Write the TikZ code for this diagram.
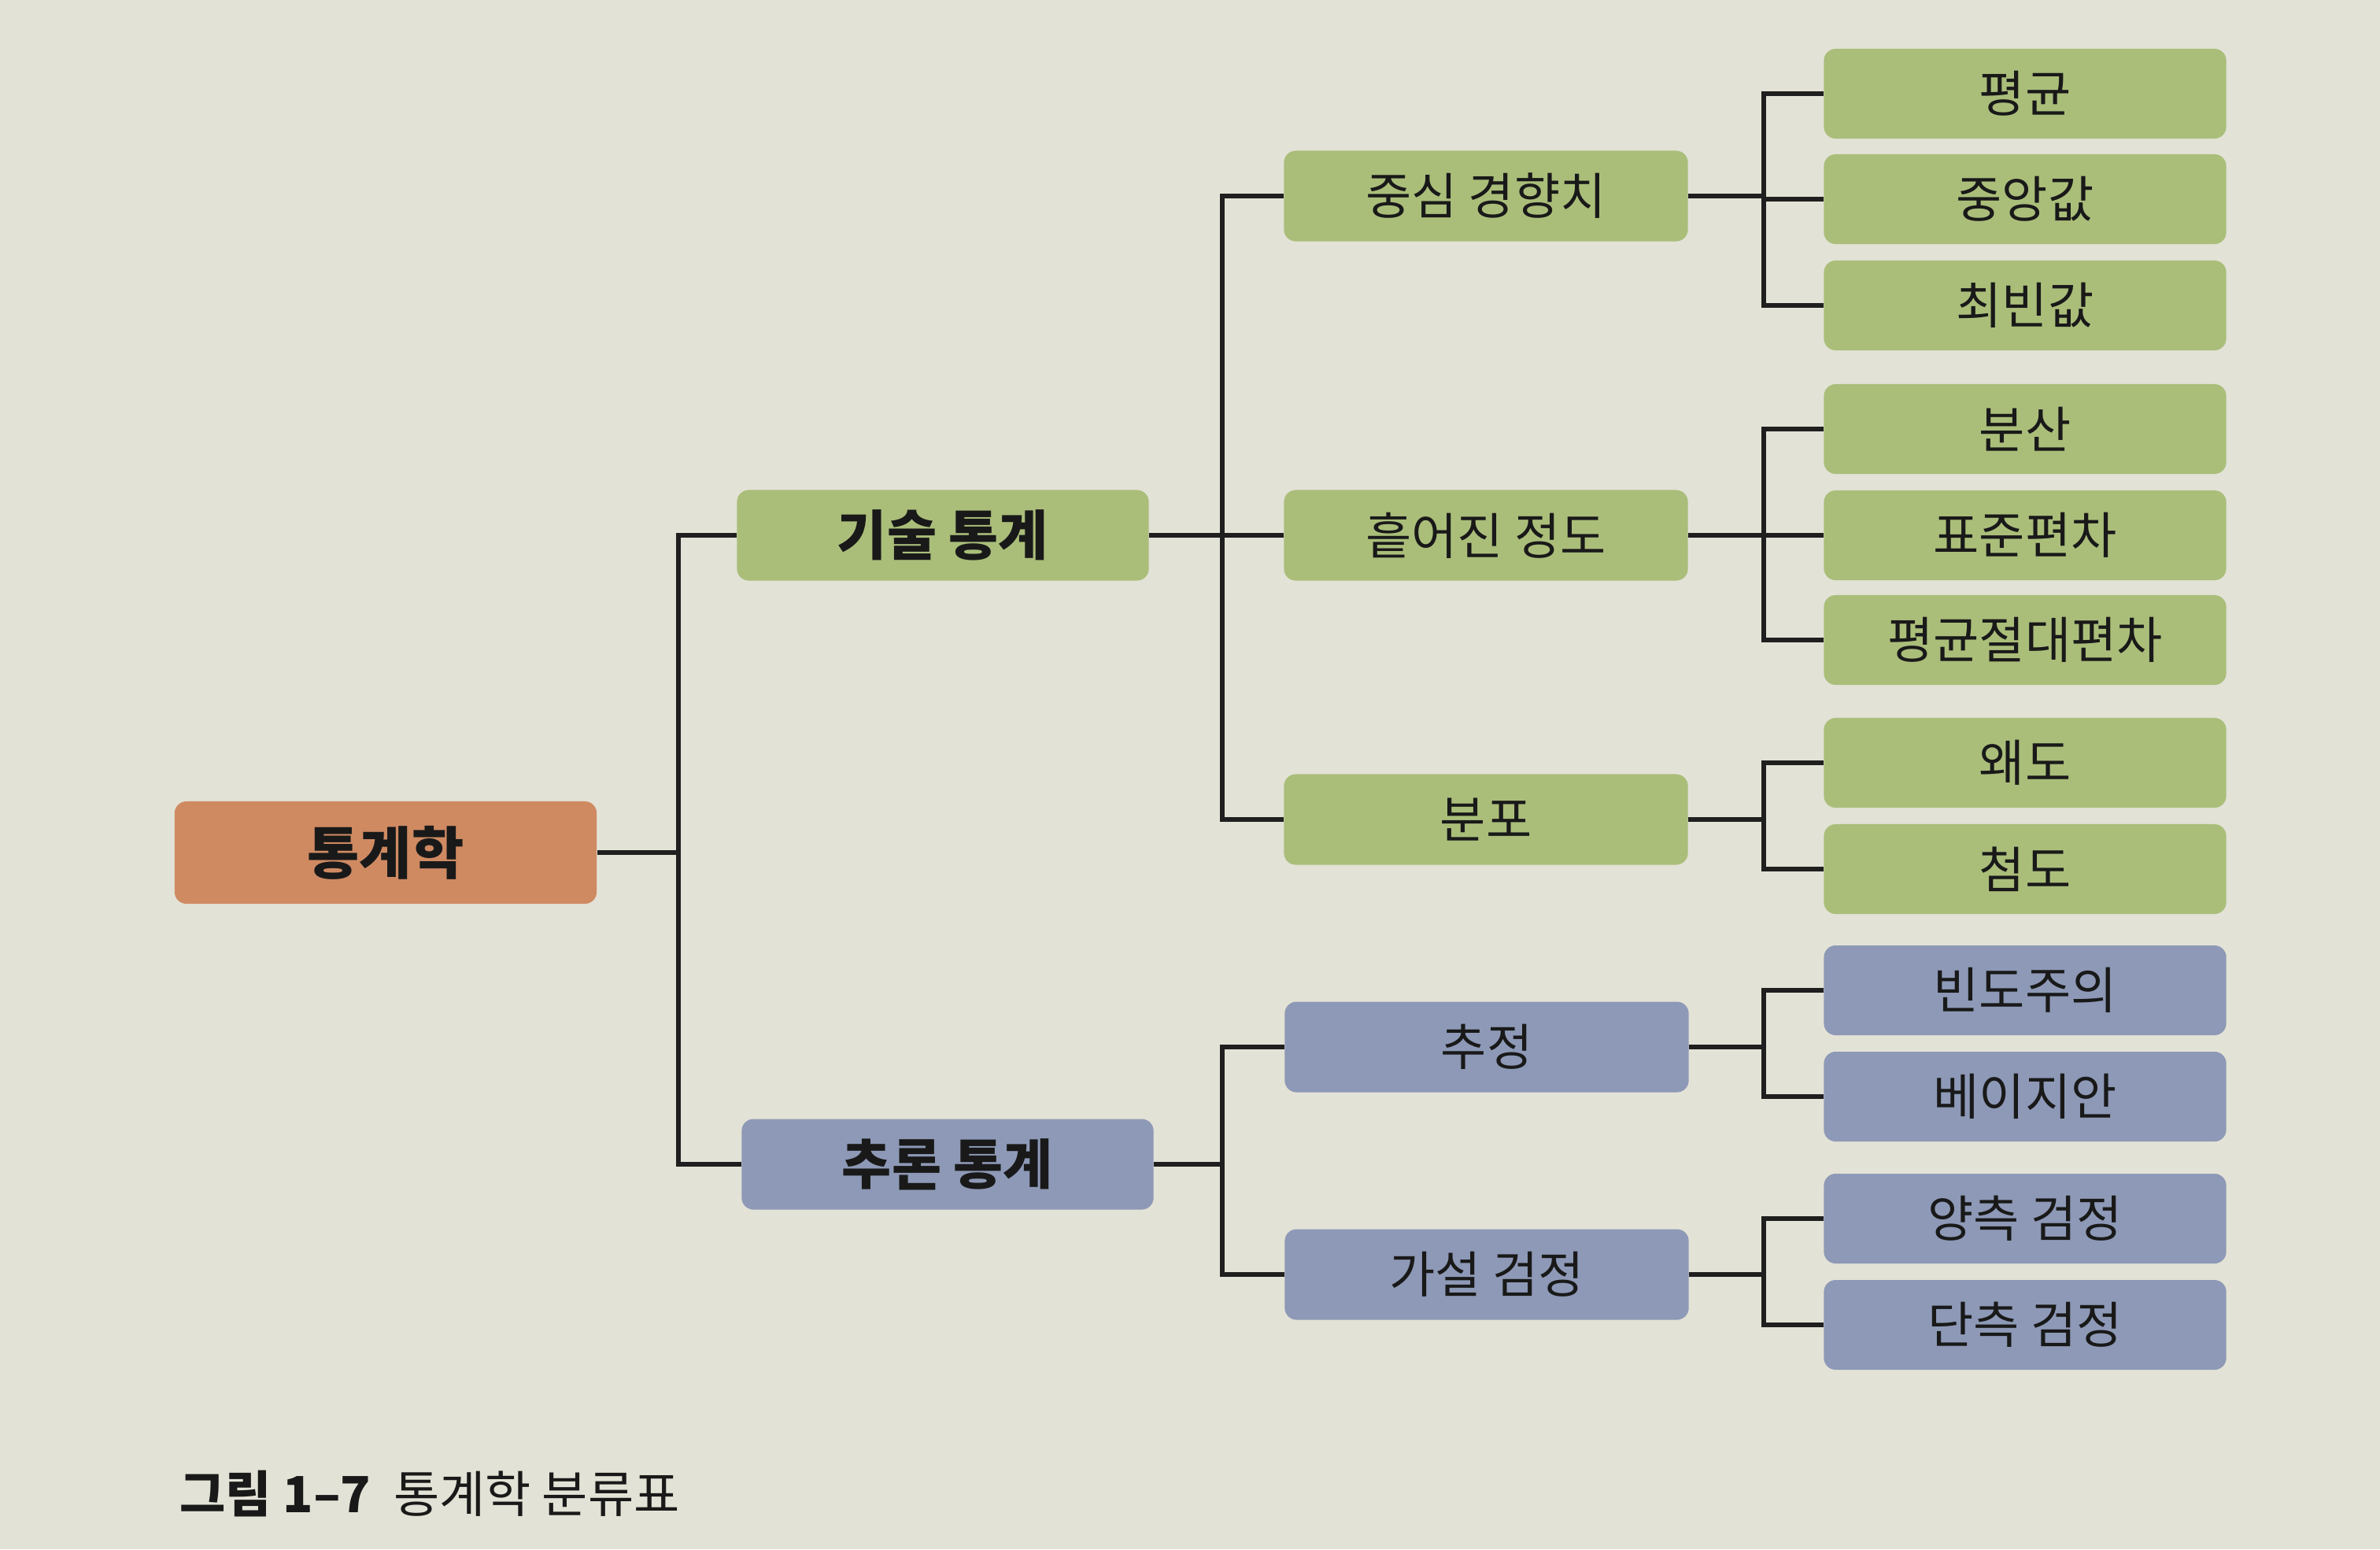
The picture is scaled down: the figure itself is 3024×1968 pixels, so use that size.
\documentclass[tikz,border=0pt]{standalone}
\usepackage{fontspec}
\setmainfont{Noto Sans CJK KR}
\begin{document}
\begin{tikzpicture}[x=0.01cm,y=-0.01cm,
  box/.style={rounded corners=0.15cm, align=center, inner sep=0pt, text=black!90},
  leaf/.style={box, fill=leafgreen, minimum width=5.11cm, minimum height=1.14cm, font=\fontsize{18}{21}\selectfont},
  midg/.style={box, fill=leafgreen, minimum width=5.13cm, minimum height=1.15cm, font=\fontsize{18}{21}\selectfont},
  midb/.style={box, fill=slateblue, minimum width=5.13cm, minimum height=1.15cm, font=\fontsize{18}{21}\selectfont},
  leafb/.style={leaf, fill=slateblue},
  topg/.style={box, fill=leafgreen, minimum width=5.23cm, minimum height=1.15cm, font=\fontsize{19.5}{22}\selectfont\bfseries},
  topb/.style={topg, fill=slateblue},
  rootbox/.style={box, fill=rootorange, minimum width=5.36cm, minimum height=1.30cm, font=\fontsize{20.5}{23}\selectfont\bfseries},
  conn/.style={line width=1.5pt, draw=black!88, line join=miter}
]
\definecolor{paper}{HTML}{E3E2D6}
\definecolor{leafgreen}{HTML}{AABE7A}
\definecolor{slateblue}{HTML}{8D99B6}
\definecolor{rootorange}{HTML}{CF8A62}
\fill[paper] (0,0) rectangle (3024,1968);
\useasboundingbox (0,0) rectangle (3024,1968);

\node[rootbox] (root) at (490,1083) {통계학};
\node[topg] (gisul) at (1198,680) {기술 통계};
\node[topb] (churon) at (1204,1479) {추론 통계};

\node[midg] (jungsim) at (1888,249) {중심 경향치};
\node[midg] (heuteo) at (1888,680) {흩어진 정도};
\node[midg] (bunpo) at (1888,1041) {분포};
\node[midb] (chujeong) at (1889,1330) {추정};
\node[midb] (gaseol) at (1889,1619) {가설 검정};

\node[leaf] (pyeonggyun) at (2573,119) {평균};
\node[leaf] (jungang) at (2573,253) {중앙값};
\node[leaf] (choebin) at (2573,388) {최빈값};
\node[leaf] (bunsan) at (2573,545) {분산};
\node[leaf] (pyojun) at (2573,680) {표준편차};
\node[leaf] (jeoldae) at (2573,813) {평균절대편차};
\node[leaf] (waedo) at (2573,969) {왜도};
\node[leaf] (cheomdo) at (2573,1104) {첨도};
\node[leafb] (bindo) at (2573,1258) {빈도주의};
\node[leafb] (bayes) at (2573,1393) {베이지안};
\node[leafb] (yangcheuk) at (2573,1548) {양측 검정};
\node[leafb] (dancheuk) at (2573,1683) {단측 검정};

\coordinate (j0) at (862,0);
\coordinate (j1) at (1553,0);
\coordinate (j2) at (2241,0);

\foreach \c in {gisul,churon}
  \draw[conn] (\c.west) -- (\c.west -| j0) |- (root.east);
\foreach \c in {jungsim,heuteo,bunpo}
  \draw[conn] (\c.west) -- (\c.west -| j1) |- (gisul.east);
\foreach \c in {chujeong,gaseol}
  \draw[conn] (\c.west) -- (\c.west -| j1) |- (churon.east);
\foreach \c in {pyeonggyun,jungang,choebin}
  \draw[conn] (\c.west) -- (\c.west -| j2) |- (jungsim.east);
\foreach \c in {bunsan,pyojun,jeoldae}
  \draw[conn] (\c.west) -- (\c.west -| j2) |- (heuteo.east);
\foreach \c in {waedo,cheomdo}
  \draw[conn] (\c.west) -- (\c.west -| j2) |- (bunpo.east);
\foreach \c in {bindo,bayes}
  \draw[conn] (\c.west) -- (\c.west -| j2) |- (chujeong.east);
\foreach \c in {yangcheuk,dancheuk}
  \draw[conn] (\c.west) -- (\c.west -| j2) |- (gaseol.east);

\node[anchor=west, inner sep=0pt, font=\fontsize{18}{21}\selectfont, text=black!90] (caption) at (228,1897) {\textbf{그림 1–7}\hspace{0.45em}통계학 분류표};
\end{tikzpicture}
\end{document}
